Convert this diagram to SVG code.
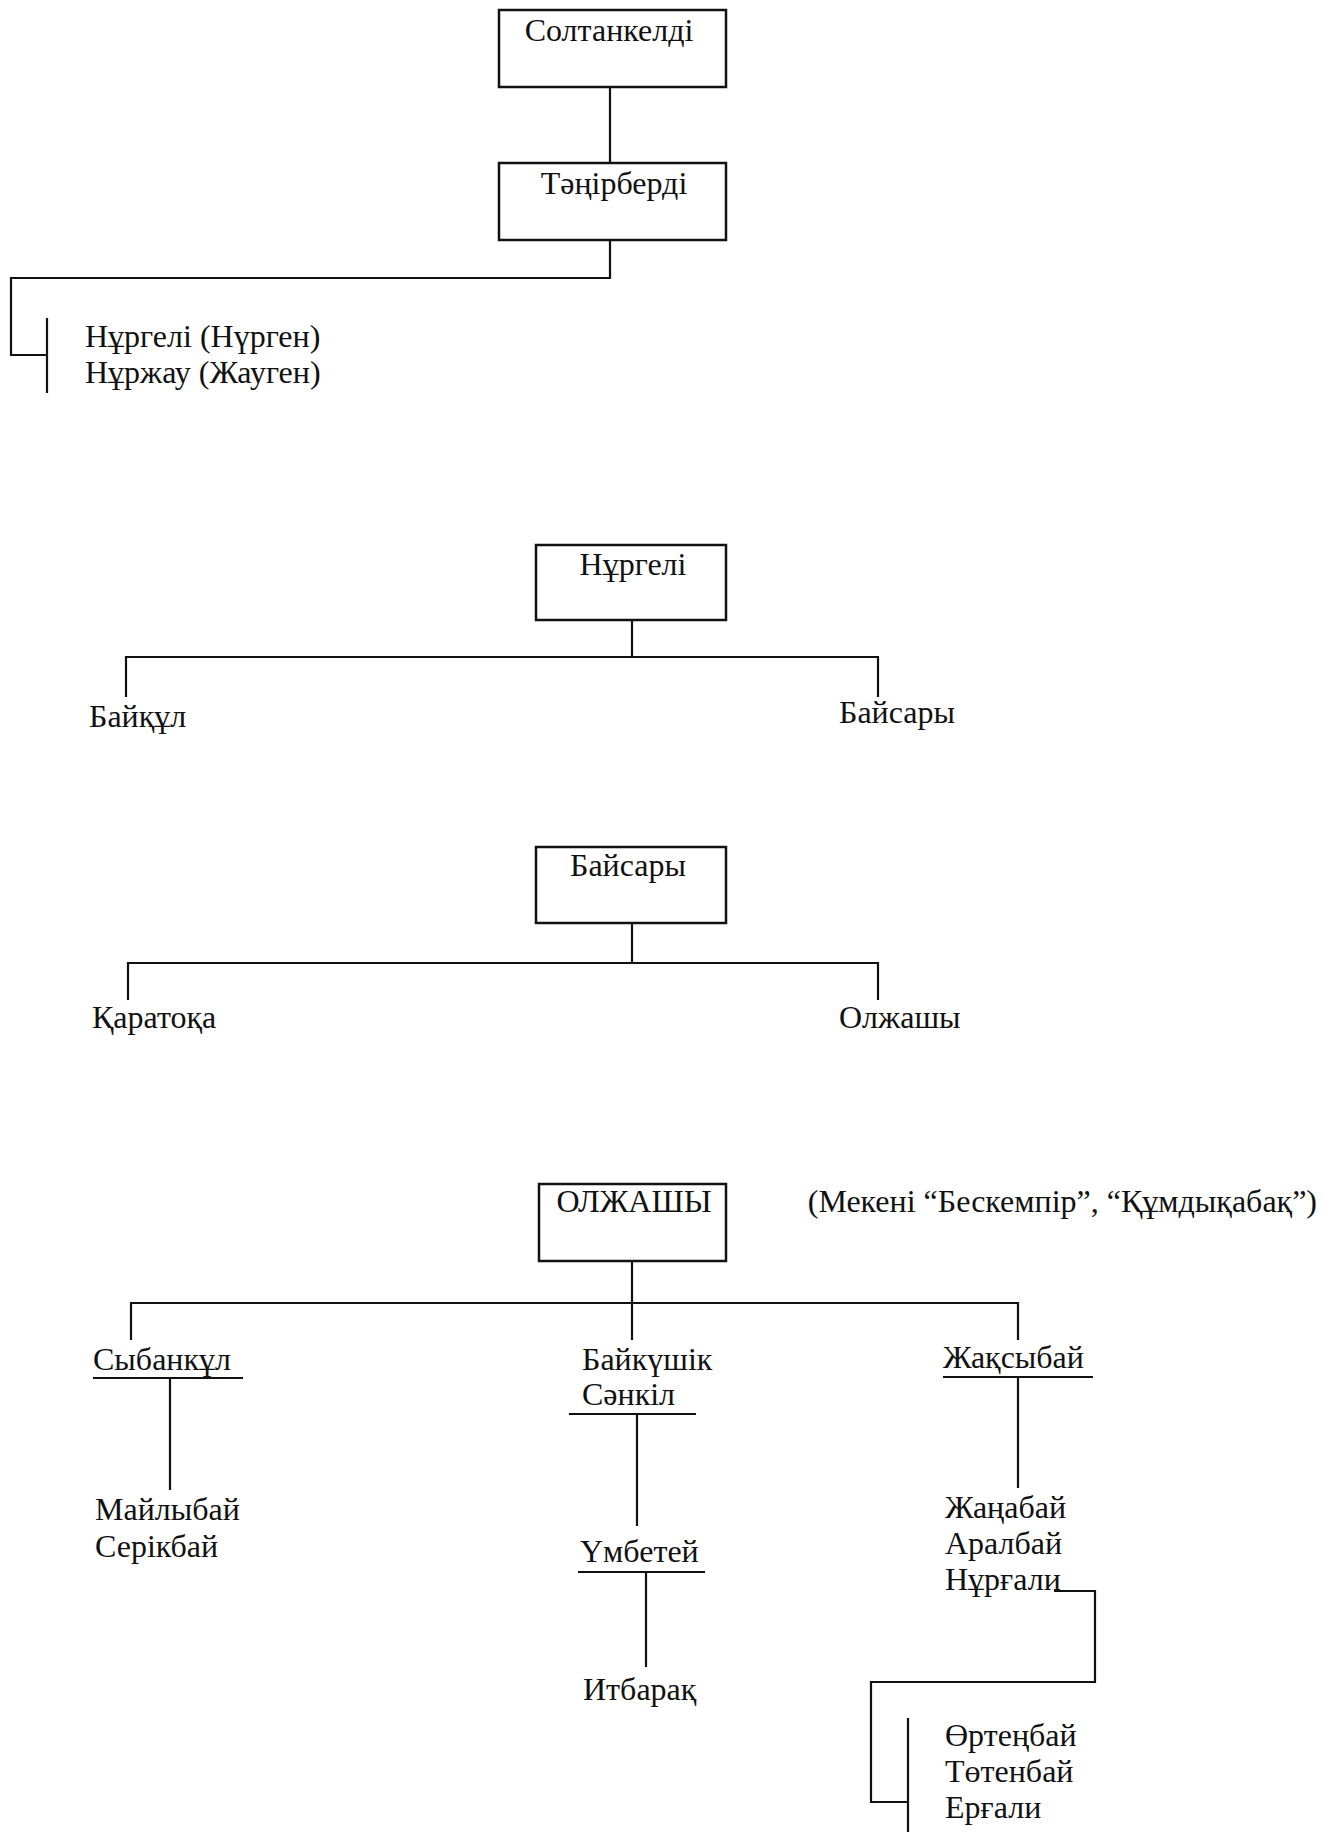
<svg xmlns="http://www.w3.org/2000/svg" width="1323" height="1832" viewBox="0 0 1323 1832">
<style>
text{font-family:"Liberation Serif","Times New Roman",serif;font-size:32px;fill:#111}
.c{text-anchor:middle}
.box{fill:#fff;stroke:#111;stroke-width:2.5}
.ln{fill:none;stroke:#111;stroke-width:2.2}
</style>
<rect width="1323" height="1832" fill="#fff"/>
<g id="connectors">
<path class="ln" d="M610 87V163"/>
<path class="ln" d="M610 240V278H11V355H47"/>
<path class="ln" d="M47 318V393"/>
<path class="ln" d="M632 620V657"/>
<path class="ln" d="M126 697V657H878V697"/>
<path class="ln" d="M632 923V963"/>
<path class="ln" d="M128 1000V963H878V1000"/>
<path class="ln" d="M632 1261V1340"/>
<path class="ln" d="M131 1340V1303H1018V1340"/>
<path class="ln" d="M93 1378H243"/>
<path class="ln" d="M170 1378V1490"/>
<path class="ln" d="M569 1414H696"/>
<path class="ln" d="M637 1414V1526"/>
<path class="ln" d="M578 1572H705"/>
<path class="ln" d="M646 1572V1667"/>
<path class="ln" d="M943 1377H1093"/>
<path class="ln" d="M1018 1377V1488"/>
<path class="ln" d="M1054 1591H1095V1682H871V1802H908"/>
<path class="ln" d="M908 1718V1832"/>
</g>
<g id="n-soltankeldi"><rect class="box" x="499" y="10" width="227" height="77"/><text class="c" x="609" y="41">Солтанкелді</text></g>
<g id="n-tanirberdi"><rect class="box" x="499" y="163" width="227" height="77"/><text class="c" x="614" y="194">Тәңірберді</text></g>
<g id="n-nurgeli-list"><text x="85" y="347">Нұргелі (Нүрген)</text><text x="85" y="383">Нұржау (Жауген)</text></g>
<g id="n-nurgeli"><rect class="box" x="536" y="545" width="190" height="75"/><text class="c" x="633" y="575">Нұргелі</text></g>
<g id="n-baiqul"><text x="89" y="727">Байқұл</text></g>
<g id="n-baisary1"><text x="839" y="723">Байсары</text></g>
<g id="n-baisary"><rect class="box" x="536" y="847" width="190" height="76"/><text class="c" x="628" y="876">Байсары</text></g>
<g id="n-qaratoqa"><text x="92" y="1028">Қаратоқа</text></g>
<g id="n-olzhashy1"><text x="839" y="1028">Олжашы</text></g>
<g id="n-olzhashy"><rect class="box" x="539" y="1184" width="187" height="77"/><text class="c" x="634" y="1212">ОЛЖАШЫ</text></g>
<g id="note"><text x="1317" y="1212" text-anchor="end">(Мекені “Бескемпір”, “Құмдықабақ”)</text></g>
<g id="n-sybanqul"><text x="93" y="1370">Сыбанкұл</text></g>
<g id="n-mailybai"><text x="95" y="1520">Майлыбай</text><text x="95" y="1557">Серікбай</text></g>
<g id="n-baikushik"><text x="582" y="1370">Байкүшік</text><text x="582" y="1405">Сәнкіл</text></g>
<g id="n-umbetei"><text x="580" y="1562">Үмбетей</text></g>
<g id="n-itbaraq"><text x="583" y="1700">Итбарақ</text></g>
<g id="n-zhaqsybai"><text x="943" y="1368">Жақсыбай</text></g>
<g id="n-zhanabai"><text x="945" y="1518">Жаңабай</text><text x="945" y="1554">Аралбай</text><text x="945" y="1590">Нұрғали</text></g>
<g id="n-ortenbai"><text x="945" y="1746">Өртеңбай</text><text x="945" y="1782">Төтенбай</text><text x="945" y="1818">Ерғали</text></g>
</svg>
